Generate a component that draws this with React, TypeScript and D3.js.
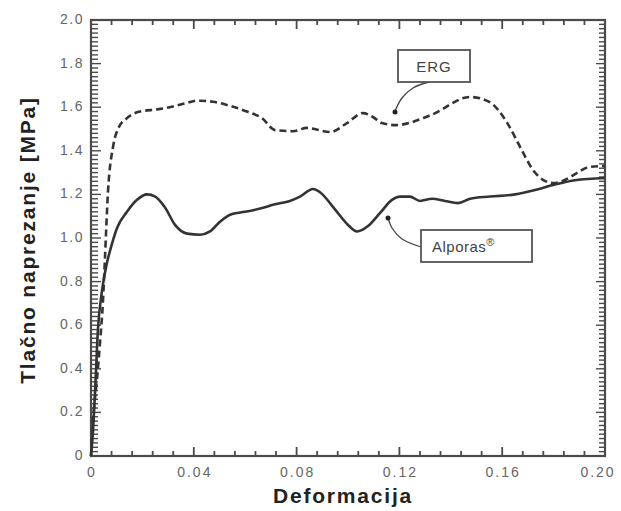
import React from "react";
import * as d3 from "d3";

const ergX = [0, 0.0008, 0.0023, 0.0035, 0.0047, 0.0054, 0.0066, 0.0086, 0.0105, 0.014, 0.019, 0.0257, 0.0307, 0.0374, 0.0412, 0.0475, 0.053, 0.0607, 0.0665, 0.0716, 0.0786, 0.084, 0.093, 0.0996, 0.1058, 0.1097, 0.1132, 0.1187, 0.1323, 0.1475, 0.155, 0.162, 0.167, 0.172, 0.176, 0.18, 0.1844, 0.189, 0.194, 0.2];
const ergY = [0, 0.165, 0.35, 0.52, 0.72, 0.9, 1.21, 1.42, 1.5, 1.55, 1.58, 1.59, 1.6, 1.62, 1.63, 1.625, 1.61, 1.58, 1.55, 1.495, 1.49, 1.505, 1.486, 1.527, 1.573, 1.555, 1.527, 1.518, 1.564, 1.647, 1.624, 1.527, 1.417, 1.312, 1.266, 1.252, 1.266, 1.298, 1.326, 1.33];

const alpX = [0, 0.0008, 0.0016, 0.0027, 0.0043, 0.0062, 0.0082, 0.0101, 0.014, 0.0179, 0.0218, 0.025, 0.0288, 0.0327, 0.0374, 0.0424, 0.0463, 0.0502, 0.0549, 0.06, 0.0658, 0.0716, 0.0774, 0.0813, 0.0864, 0.0891, 0.095, 0.1, 0.1035, 0.1078, 0.1125, 0.1171, 0.1202, 0.1241, 0.128, 0.1327, 0.1377, 0.1428, 0.1475, 0.1553, 0.165, 0.1728, 0.1805, 0.1883, 0.2];
const alpY = [0, 0.12, 0.3, 0.58, 0.76, 0.885, 0.975, 1.045, 1.12, 1.175, 1.2, 1.19, 1.14, 1.06, 1.02, 1.015, 1.03, 1.075, 1.11, 1.12, 1.135, 1.155, 1.17, 1.19, 1.225, 1.21, 1.13, 1.06, 1.03, 1.055, 1.115, 1.175, 1.19, 1.19, 1.17, 1.18, 1.17, 1.16, 1.18, 1.19, 1.2, 1.22, 1.245, 1.265, 1.275];

const xTickValues = [0, 0.04, 0.08, 0.12, 0.16, 0.2];
const xTickLabels = ["0", "0.04", "0.08", "0.12", "0.16", "0.20"];
const yTickValues = [0, 0.2, 0.4, 0.6, 0.8, 1.0, 1.2, 1.4, 1.6, 1.8, 2.0];
const yTickLabels = ["0", "0.2", "0.4", "0.6", "0.8", "1.0", "1.2", "1.4", "1.6", "1.8", "2.0"];

const xTitle = "Deformacija";
const yTitle = "Tlačno naprezanje [MPa]";

export default function App() {
  const left = 91, right = 605, top = 20, bottom = 456;
  const x = d3.scaleLinear().domain([0, 0.2]).range([left, right]);
  const y = d3.scaleLinear().domain([0, 2]).range([bottom, top]);

  const line = d3
    .line<[number, number]>()
    .x((d) => x(d[0]))
    .y((d) => y(d[1]))
    .curve(d3.curveMonotoneX);

  const erg = ergX.map((v, i) => [v, ergY[i]] as [number, number]);
  const alp = alpX.map((v, i) => [v, alpY[i]] as [number, number]);

  const xMinor = d3.range(0, 0.2001, 0.008);
  const yMinor = d3.range(0, 2.0001, 0.02);
  const isMajorX = (v: number) => Math.abs(v / 0.04 - Math.round(v / 0.04)) < 1e-6;
  const isMajorY = (v: number) => Math.abs(v / 0.2 - Math.round(v / 0.2)) < 1e-6;

  const axisCol = "#4a4a4a";
  const labelCol = "#666";

  const ergLeader = d3.line().curve(d3.curveCatmullRom)([
    [429, 82],
    [413, 88],
    [402, 98],
    [395, 111],
  ]);
  const alpLeader = d3.line().curve(d3.curveCatmullRom)([
    [421, 247],
    [402, 239],
    [392, 228],
    [388, 218],
  ]);

  return (
    <svg
      width={621}
      height={511}
      style={{ position: "absolute", left: 0, top: 0, background: "#fff" }}
      fontFamily="Arial, 'Liberation Sans', Helvetica, sans-serif"
    >
      <rect x={0} y={0} width={621} height={511} fill="#fff" />
      {xMinor.map((v, i) => {
        const len = isMajorX(v) ? 9 : 5;
        return (
          <g key={"xt" + i} stroke={axisCol} strokeWidth={1.8}>
            <line x1={x(v)} x2={x(v)} y1={bottom} y2={bottom - len} />
            <line x1={x(v)} x2={x(v)} y1={top} y2={top + len} />
          </g>
        );
      })}
      {yMinor.map((v, i) => {
        const major = isMajorY(v);
        return (
          <g key={"yt" + i} stroke={axisCol} strokeWidth={1.4}>
            <line x1={left} x2={left + (major ? 10 : 7)} y1={y(v)} y2={y(v)} />
            <line x1={right} x2={right - (major ? 9 : 6)} y1={y(v)} y2={y(v)} />
          </g>
        );
      })}
      <rect x={left} y={top} width={right - left} height={bottom - top} fill="none" stroke={axisCol} strokeWidth={2.2} />

      <path d={line(alp) || ""} fill="none" stroke="#333" strokeWidth={2.6} strokeLinejoin="round" />
      <path d={line(erg) || ""} fill="none" stroke="#333" strokeWidth={2.6} strokeDasharray="7,4" />

      {xTickValues.map((v, i) => (
        <text
          key={"xl" + i}
          x={Math.min(x(v) + 1, 598)}
          y={477}
          textAnchor="middle"
          fontSize={14}
          fill={labelCol}
          letterSpacing={2}
        >
          {xTickLabels[i]}
        </text>
      ))}
      {yTickValues.map((v, i) => (
        <text key={"yl" + i} x={84} y={y(v) + 4} textAnchor="end" fontSize={14} fill={labelCol} letterSpacing={1.5}>
          {yTickLabels[i]}
        </text>
      ))}

      <text x={343} y={503} textAnchor="middle" fontSize={21} fontWeight="bold" fill="#222" letterSpacing={1.8}>
        {xTitle}
      </text>
      <text
        transform={`translate(35, 240) rotate(-90)`}
        textAnchor="middle"
        fontSize={21}
        fontWeight="bold"
        fill="#222"
        letterSpacing={1.8}
      >
        {yTitle}
      </text>

      <path d={ergLeader || ""} fill="none" stroke="#444" strokeWidth={1.3} />
      <circle cx={395} cy={112} r={2.5} fill="#222" />
      <rect x={398} y={50} width={72} height={32} fill="#fff" stroke="#555" strokeWidth={1.8} />
      <text x={434} y={72} textAnchor="middle" fontSize={15} fill="#444" letterSpacing={1}>
        ERG
      </text>

      <path d={alpLeader || ""} fill="none" stroke="#444" strokeWidth={1.3} />
      <circle cx={388} cy={218} r={2.5} fill="#222" />
      <rect x={421} y={230} width={111} height={32} fill="#fff" stroke="#555" strokeWidth={1.8} />
      <text x={432} y={252} fontSize={15} fill="#444" letterSpacing={0.5}>
        Alporas
        <tspan fontSize={11} dy={-6}>®</tspan>
      </text>
    </svg>
  );
}
